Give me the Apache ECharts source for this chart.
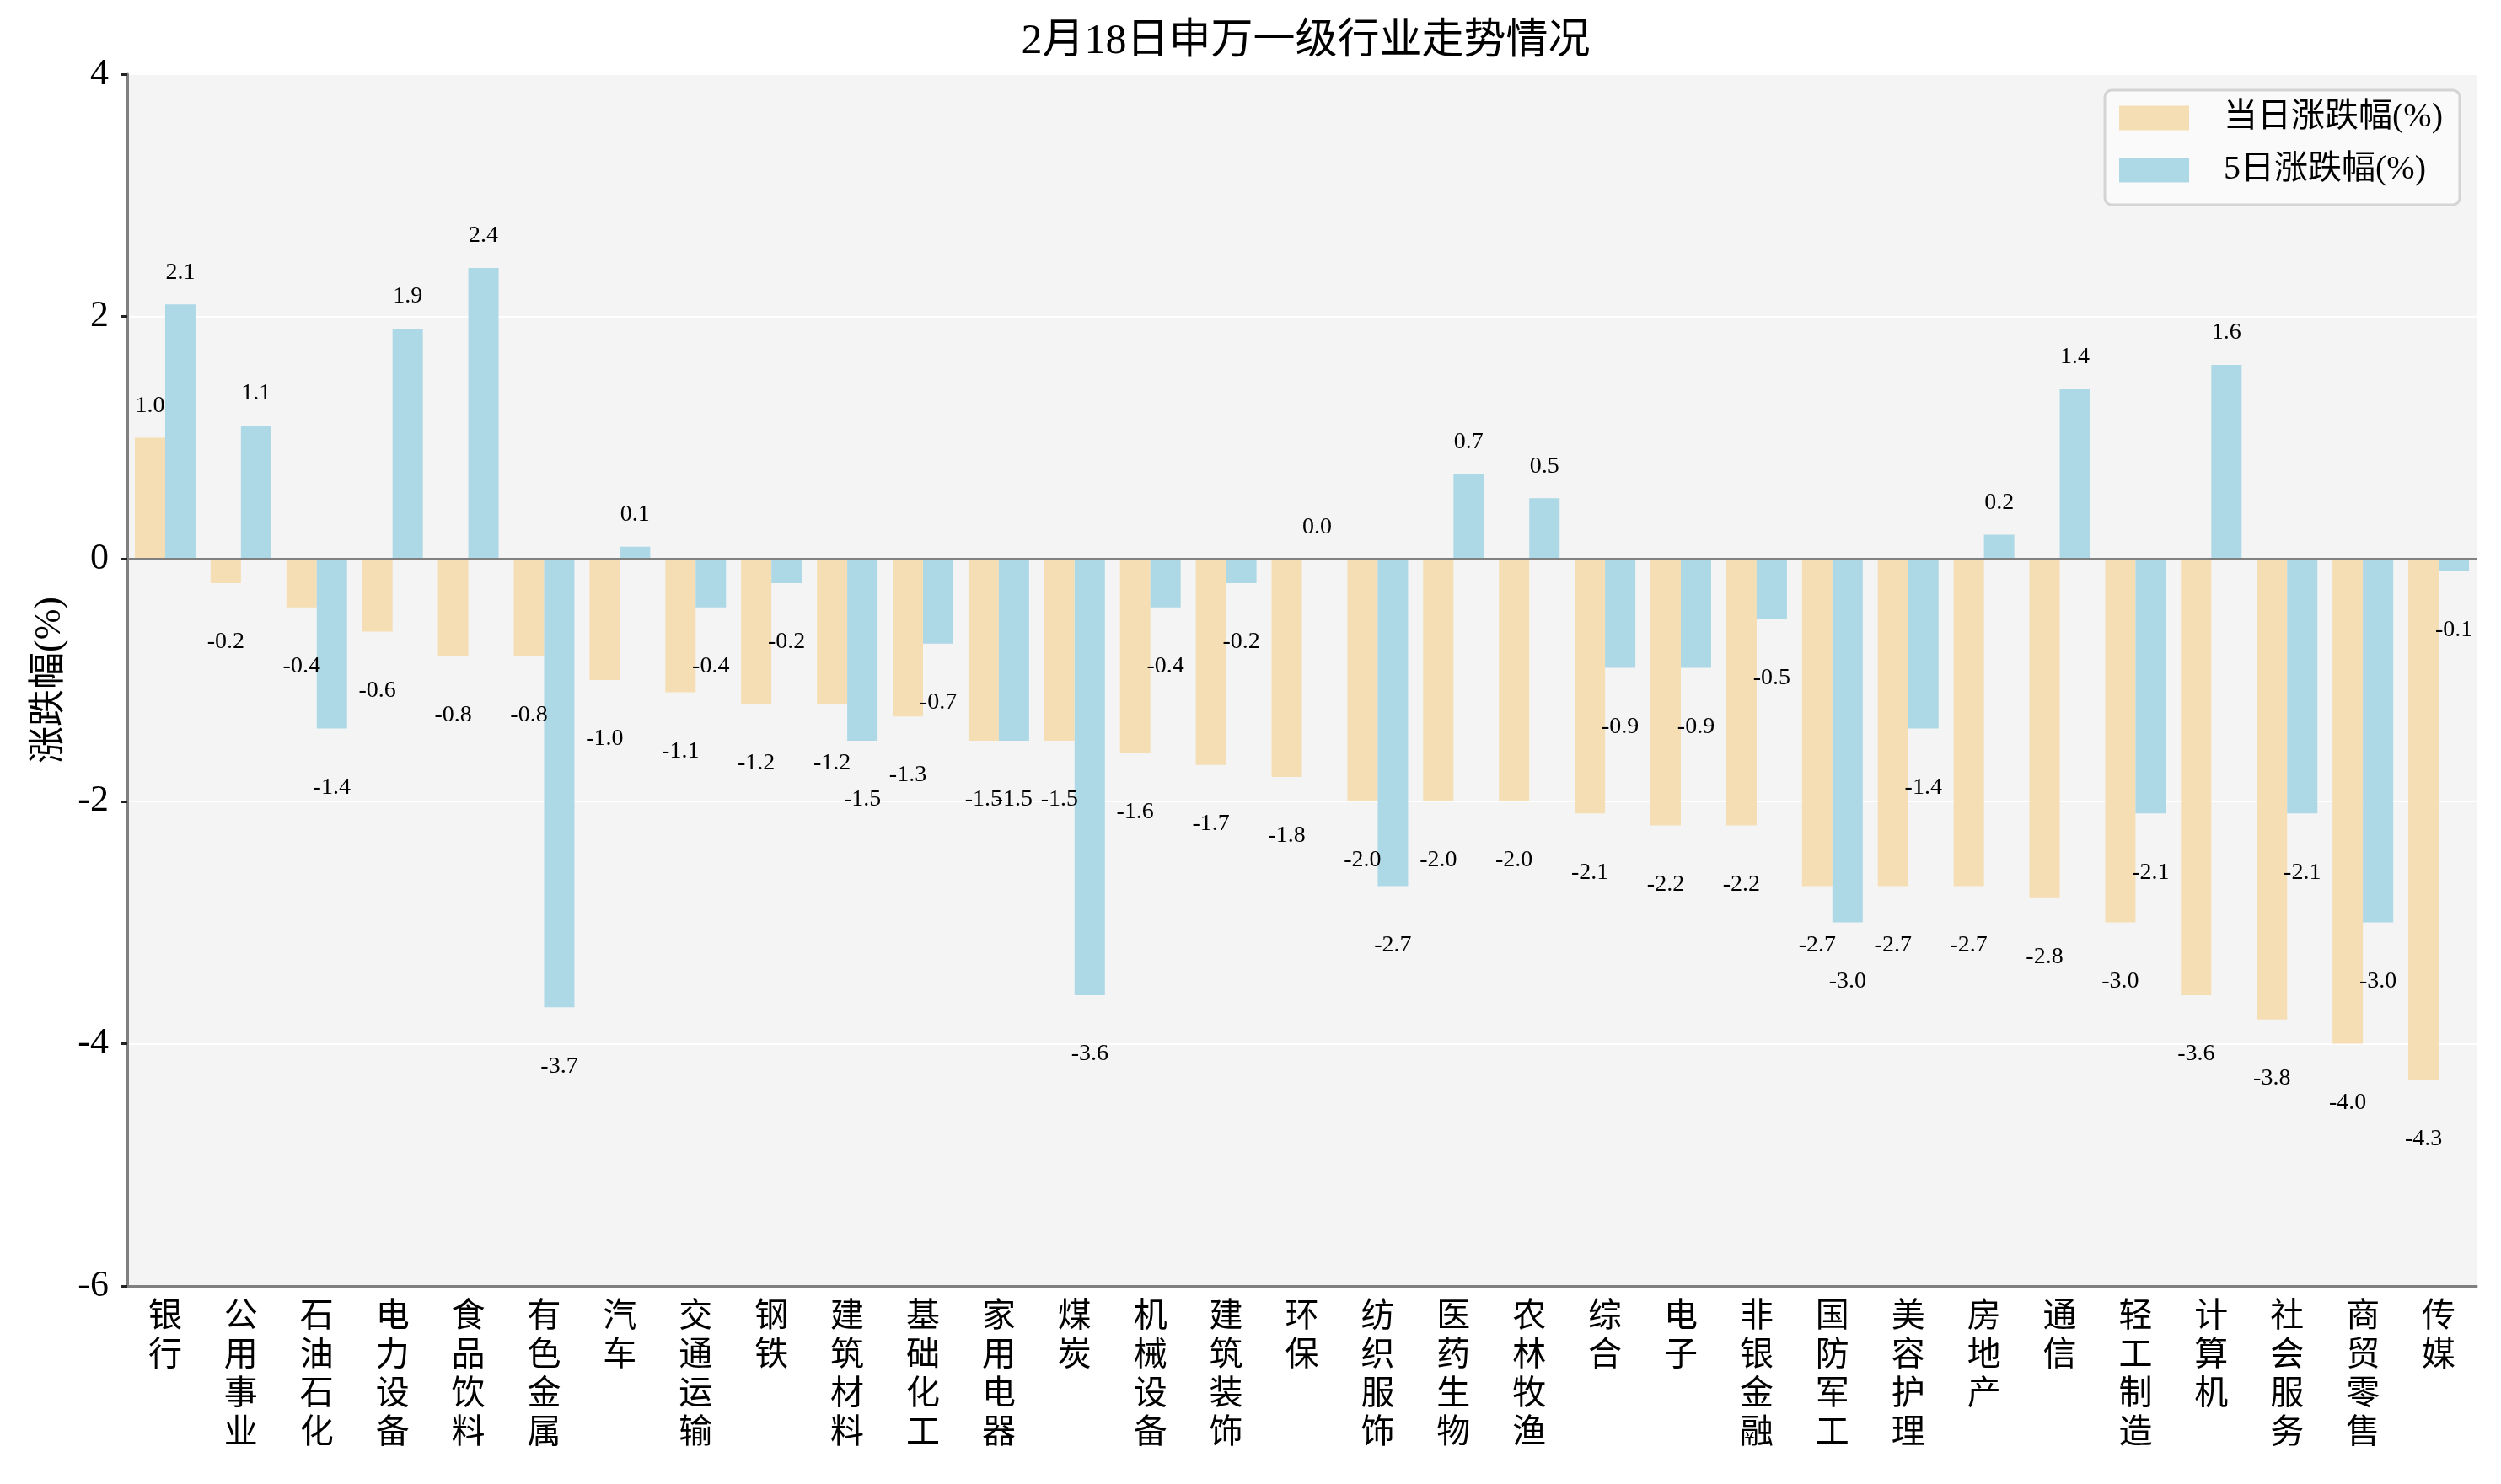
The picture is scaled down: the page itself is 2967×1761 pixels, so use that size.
<!DOCTYPE html>
<html>
<head>
<meta charset="utf-8">
<script src="https://cdn.jsdelivr.net/npm/echarts@6/dist/echarts.min.js"></script>
<style>
html,body{margin:0;padding:0;background:#fff;}
#chart{width:2967px;height:1761px;}
</style>
</head>
<body>
<div id="chart"></div>
<script>
const categories = ['银行','公用事业','石油石化','电力设备','食品饮料','有色金属','汽车','交通运输','钢铁','建筑材料','基础化工','家用电器','煤炭','机械设备','建筑装饰','环保','纺织服饰','医药生物','农林牧渔','综合','电子','非银金融','国防军工','美容护理','房地产','通信','轻工制造','计算机','社会服务','商贸零售','传媒'];
const dailyChange = [1.0,-0.2,-0.4,-0.6,-0.8,-0.8,-1.0,-1.1,-1.2,-1.2,-1.3,-1.5,-1.5,-1.6,-1.7,-1.8,-2.0,-2.0,-2.0,-2.1,-2.2,-2.2,-2.7,-2.7,-2.7,-2.8,-3.0,-3.6,-3.8,-4.0,-4.3];
const fiveDayChange = [2.1,1.1,-1.4,1.9,2.4,-3.7,0.1,-0.4,-0.2,-1.5,-0.7,-1.5,-3.6,-0.4,-0.2,0.0,-2.7,0.7,0.5,-0.9,-0.9,-0.5,-3.0,-1.4,0.2,1.4,-2.1,1.6,-2.1,-3.0,-0.1];
const yTickValues = [-6,-4,-2,0,2,4];
const seriesNames = ['当日涨跌幅(%)','5日涨跌幅(%)'];
const titleText = '2月18日申万一级行业走势情况';
const yAxisName = '涨跌幅(%)';

const SERIF = "'Liberation Serif','Noto Sans CJK SC'";
const CJK = "'Liberation Serif','Noto Sans CJK SC'";

function buildData(arr){
  return arr.map(v => ({
    value: v,
    label: {
      position: v >= 0 ? 'top' : 'bottom',
      distance: v >= 0 ? 24 : 56
    }
  }));
}

const labelCommon = {
  show: true,
  formatter: p => Number(p.value).toFixed(1),
  fontFamily: SERIF,
  fontSize: 28,
  color: '#000'
};

const chart = echarts.init(document.getElementById('chart'), null, {renderer:'canvas'});
chart.setOption({
  animation: false,
  backgroundColor: '#ffffff',
  title: {
    text: titleText,
    left: 1544,
    textAlign: 'center',
    top: 20,
    textStyle: {fontFamily: CJK, fontSize: 50, fontWeight: 'normal', color: '#000'}
  },
  legend: {
    orient: 'vertical',
    right: 49,
    top: 107,
    padding: [13, 20, 21, 17],
    icon: 'rect',
    itemWidth: 83,
    itemHeight: 29,
    itemGap: 22,
    backgroundColor: '#fafafa',
    borderColor: '#d4d4d4',
    borderWidth: 3,
    borderRadius: 8,
    textStyle: {fontFamily: CJK, fontSize: 40, color: '#000', padding: [0,0,0,36]},
    data: seriesNames
  },
  grid: {
    left: 151, right: 29, top: 88, bottom: 235,
    show: true, backgroundColor: '#f4f4f4', borderWidth: 0
  },
  xAxis: {
    type: 'category',
    data: categories,
    axisLine: {onZero: false, lineStyle: {color: '#808080', width: 3}},
    axisTick: {alignWithLabel: true, length: 8, lineStyle: {color: '#222', width: 3}},
    axisLabel: {
      interval: 0,
      formatter: v => v.split('').join('\n'),
      fontFamily: CJK,
      fontSize: 40,
      lineHeight: 46,
      color: '#000',
      margin: 14,
      verticalAlign: 'top'
    }
  },
  yAxis: {
    type: 'value',
    min: yTickValues[0],
    max: yTickValues[yTickValues.length-1],
    interval: yTickValues[1]-yTickValues[0],
    name: yAxisName,
    nameLocation: 'middle',
    nameRotate: 90,
    nameGap: 66,
    nameTextStyle: {fontFamily: CJK, fontSize: 44, color: '#000'},
    axisLine: {show: true, lineStyle: {color: '#808080', width: 3}},
    axisTick: {show: true, length: 8, lineStyle: {color: '#222', width: 3}},
    axisLabel: {fontFamily: SERIF, fontSize: 44, color: '#000', margin: 22},
    splitLine: {show: true, lineStyle: {color: '#ffffff', width: 2}}
  },
  series: [
    {
      name: seriesNames[0],
      type: 'bar',
      data: buildData(dailyChange),
      barWidth: 36,
      barGap: '0%',
      itemStyle: {color: '#F5DEB3'},
      label: labelCommon,
      markLine: {
        silent: true,
        symbol: 'none',
        label: {show: false},
        lineStyle: {color: '#808080', width: 3, type: 'solid'},
        data: [{yAxis: 0}]
      }
    },
    {
      name: seriesNames[1],
      type: 'bar',
      data: buildData(fiveDayChange),
      barWidth: 36,
      barGap: '0%',
      itemStyle: {color: '#ADD8E6'},
      label: labelCommon
    }
  ]
});
</script>
</body>
</html>
